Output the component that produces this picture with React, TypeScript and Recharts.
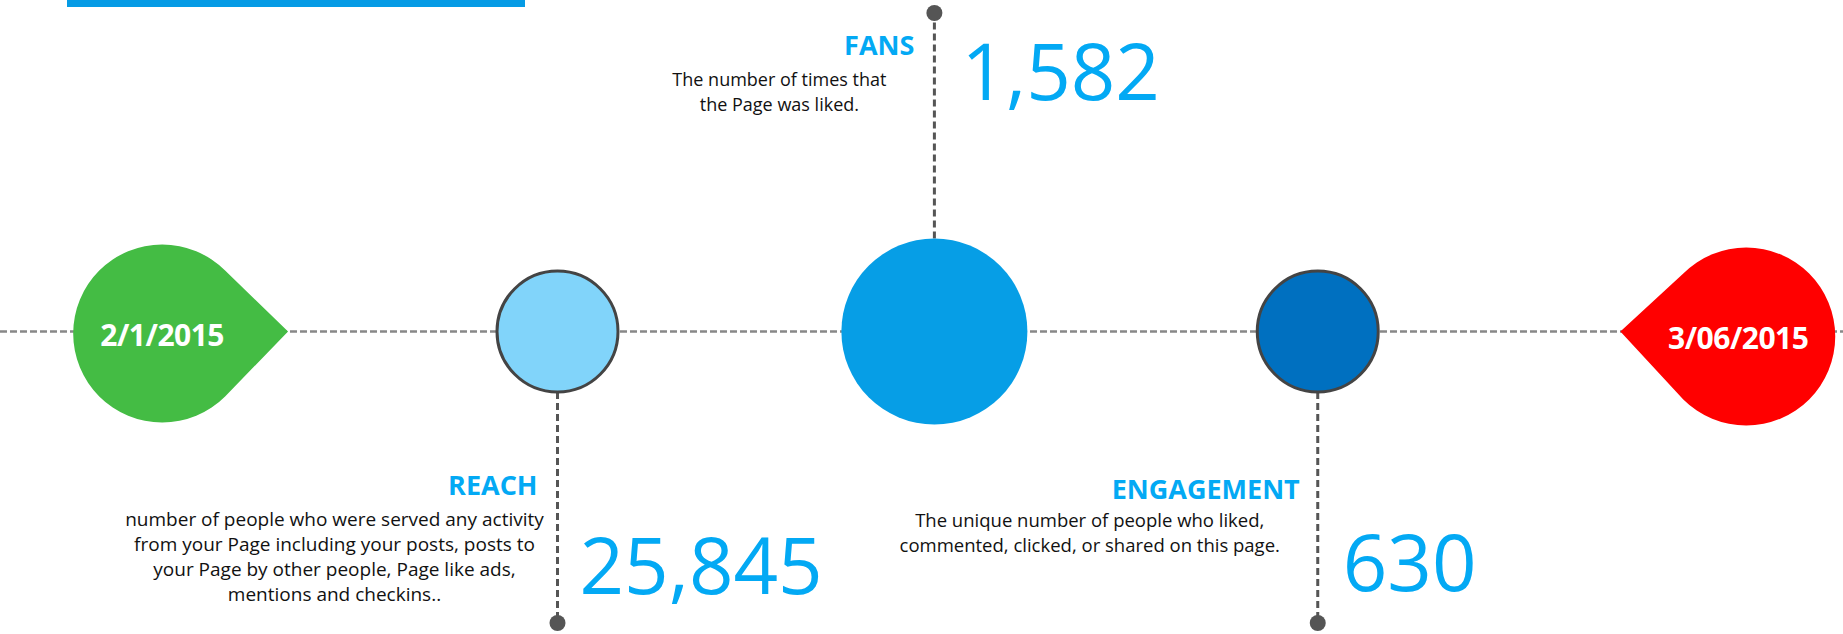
import React from 'react'
import { ScatterChart, Scatter, XAxis, YAxis, ReferenceLine } from 'recharts'

// timeline stages, left to right
const stageKeys = ['start', 'reach', 'fans', 'engagement', 'end']
const stageLabels = ['2/1/2015', 'REACH', 'FANS', 'ENGAGEMENT', '3/06/2015']
// position along the timeline, in percent of its length
const stagePositions = [8.8, 30.25, 50.7, 71.5, 94.75]
const metricValues = [null, 25845, 1582, 630, null]
const metricDescriptions = [
    [],
    [
        'number of people who were served any activity',
        'from your Page including your posts, posts to',
        'your Page by other people, Page like ads,',
        'mentions and checkins..',
    ],
    ['The number of times that', 'the Page was liked.'],
    ['The unique number of people who liked,', 'commented, clicked, or shared on this page.'],
    [],
]

const data = stageKeys.map((key, i) => ({
    key,
    x: stagePositions[i],
    y: 0,
    label: stageLabels[i],
    value: metricValues[i],
    lines: metricDescriptions[i],
}))

const W = 1843
const H = 634
const FONT = '"Open Sans", "Noto Sans", sans-serif'
const ACCENT = '#03A9F4'

interface NodeStyle {
    kind: 'drop' | 'circle'
    r: number
    fill: string
    stroke?: string
    dir?: number
    dy?: number
    callout?: {
        dotY: number
        titleX: number
        titleY: number
        descX: number
        descY: number
        descSize: number
        numX: number
        numY: number
    }
}

const nodeStyles: Record<string, NodeStyle> = {
    start: { kind: 'drop', r: 89, fill: '#44BC44', dir: 1, dy: 2 },
    reach: {
        kind: 'circle', r: 60.5, fill: '#81D4FA', stroke: '#444',
        callout: { dotY: 291.5, titleX: -20, titleY: 163.5, descX: -223, descY: 194.5, descSize: 19, numX: 22, numY: 262.5 },
    },
    fans: {
        kind: 'circle', r: 93, fill: '#069EE6',
        callout: { dotY: -318.5, titleX: -20, titleY: -276.5, descX: -155, descY: -245.5, descSize: 18, numX: 27, numY: -231.5 },
    },
    engagement: {
        kind: 'circle', r: 60.5, fill: '#0070C0', stroke: '#444',
        callout: { dotY: 291.5, titleX: -18, titleY: 167.5, descX: -228, descY: 195.5, descSize: 18.5, numX: 25, numY: 259.5 },
    },
    end: { kind: 'drop', r: 89, fill: '#FF0000', dir: -1, dy: 5 },
}

const renderNode = (props: any) => {
    const { cx, cy, payload } = props
    const st = nodeStyles[payload.key]
    if (cx == null || cy == null || !st) return <g />

    if (st.kind === 'drop') {
        const r = st.r
        const d = st.dir ?? 1
        const oy = cy + (st.dy ?? 0)
        const k = r / Math.SQRT2
        const px = cx + d * r * Math.SQRT2
        const path = `M${px},${cy} L${cx + d * k},${oy - k} A${r},${r} 0 1 ${d > 0 ? 0 : 1} ${cx + d * k},${oy + k} Z`
        return (
            <g>
                <path d={path} fill={st.fill} />
                <text
                    x={cx - (d < 0 ? 8 : 0)}
                    y={oy + 12}
                    textAnchor="middle"
                    fill="#fff"
                    fontFamily={FONT}
                    fontWeight={700}
                    fontSize={30}
                    letterSpacing={-0.5}
                >
                    {payload.label}
                </text>
            </g>
        )
    }

    const c = st.callout!
    const up = c.dotY < 0
    const edgeY = up ? cy - st.r : cy + st.r
    return (
        <g>
            <line
                x1={cx}
                y1={edgeY}
                x2={cx}
                y2={cy + c.dotY}
                stroke="#555"
                strokeWidth={3}
                strokeDasharray="7 4"
            />
            <circle cx={cx} cy={cy + c.dotY} r={8} fill="#555" />
            <ellipse
                cx={cx}
                cy={cy}
                rx={st.r}
                ry={st.r}
                fill={st.fill}
                stroke={st.stroke ?? 'none'}
                strokeWidth={st.stroke ? 3 : 0}
            />
            <text
                x={cx + c.titleX}
                y={cy + c.titleY}
                textAnchor="end"
                fill={ACCENT}
                fontFamily={FONT}
                fontWeight={700}
                fontSize={27}
            >
                {payload.label}
            </text>
            {payload.lines.map((line: string, i: number) => (
                <text
                    key={i}
                    x={cx + c.descX}
                    y={cy + c.descY + i * 25}
                    textAnchor="middle"
                    fill="#111"
                    fontFamily={FONT}
                    fontSize={c.descSize}
                >
                    {line}
                </text>
            ))}
            <text
                x={cx + c.numX}
                y={cy + c.numY}
                fill={ACCENT}
                fontFamily={FONT}
                fontWeight={400}
                fontSize={78}
            >
                {payload.value.toLocaleString('en-US')}
            </text>
        </g>
    )
}

export default function App() {
    return (
        <div style={{ position: 'absolute', left: 0, top: 0, width: W, height: H, background: '#fff' }}>
            <div style={{ position: 'absolute', left: 67, top: 0, width: 458, height: 7, background: '#059BE5' }} />
            <ScatterChart width={W} height={H} margin={{ top: 29, right: 0, bottom: 0, left: 0 }}>
                <XAxis type="number" dataKey="x" domain={[0, 100]} hide />
                <YAxis type="number" dataKey="y" domain={[-1, 1]} hide />
                <ReferenceLine y={0} stroke="#888" strokeWidth={2.5} strokeDasharray="7 3" zIndex={-10} />
                <Scatter data={data} shape={renderNode} isAnimationActive={false} />
            </ScatterChart>
        </div>
    )
}
